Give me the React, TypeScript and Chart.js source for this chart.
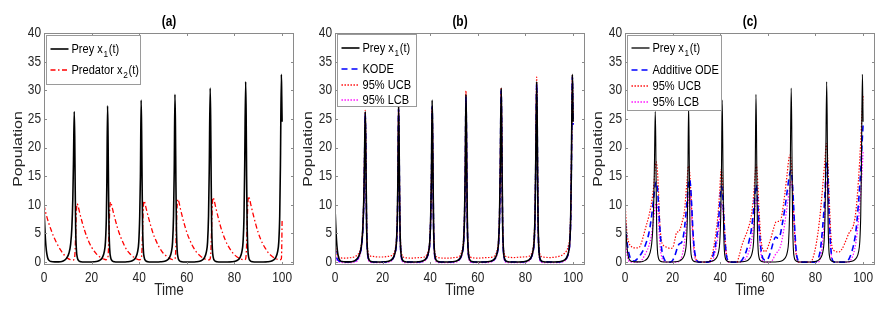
import React, { useEffect, useRef } from 'react';
import { Chart, registerables } from 'chart.js';
Chart.register(...registerables);

// ---------- tick labels / titles ----------
const X_TICKS = [0, 20, 40, 60, 80, 100];
const Y_TICKS = [0, 5, 10, 15, 20, 25, 30, 35, 40];
const PANEL_TITLES = ['(a)', '(b)', '(c)'];
const X_TITLE = 'Time';
const Y_TITLE = 'Population';

type P = [number, number];

// ---------- series (t, value) ----------
const PREY: P[] = [
  [0, 9.5], [0.3, 6.5], [0.6, 4.0], [1, 2.0], [1.5, 0.8], [2, 0.35], [3, 0.1], [4.5, 0.04], [6, 0.05], [7.5, 0.12],
  [8.5, 0.3], [9.5, 0.7], [10.5, 1.6], [11.2, 3.2], [11.7, 6.0], [12.1, 11], [12.4, 18], [12.7, 26.3], [12.9, 22],
  [13.1, 13], [13.3, 6], [13.6, 2.2], [14, 0.8], [14.6, 0.25], [15.5, 0.08], [17, 0.03], [19, 0.03], [21, 0.06],
  [22.5, 0.15], [23.5, 0.35], [24.5, 0.8], [25.3, 1.8], [25.8, 3.5], [26.2, 8], [26.4, 14], [26.7, 27.3], [26.9, 22],
  [27.1, 13], [27.3, 6], [27.6, 2.2], [28, 0.8], [28.6, 0.25], [29.5, 0.08], [31, 0.03], [33, 0.03], [35, 0.06],
  [36.5, 0.15], [37.5, 0.35], [38.5, 0.8], [39.3, 1.8], [39.8, 3.5], [40.2, 8], [40.5, 15], [40.8, 28.3], [41, 23],
  [41.2, 14], [41.4, 6.5], [41.7, 2.3], [42.1, 0.8], [42.7, 0.25], [43.6, 0.08], [45, 0.03], [47, 0.03], [49, 0.06],
  [50.7, 0.15], [51.7, 0.35], [52.7, 0.8], [53.5, 1.8], [54, 3.5], [54.4, 8], [54.7, 16], [55, 29.3], [55.2, 24],
  [55.4, 14], [55.6, 6.5], [55.9, 2.3], [56.3, 0.8], [56.9, 0.25], [57.8, 0.08], [59.5, 0.03], [62, 0.03], [64, 0.06],
  [65.4, 0.15], [66.4, 0.35], [67.4, 0.8], [68.2, 1.8], [68.7, 3.5], [69.1, 8], [69.4, 16], [69.8, 30.4], [70, 25],
  [70.2, 15], [70.4, 7], [70.7, 2.4], [71.1, 0.8], [71.7, 0.25], [72.6, 0.08], [74.5, 0.03], [77, 0.03], [79, 0.06],
  [80.3, 0.15], [81.3, 0.35], [82.3, 0.8], [83.1, 1.8], [83.6, 3.5], [84, 8], [84.3, 17], [84.7, 31.5], [84.9, 26],
  [85.1, 15], [85.3, 7], [85.6, 2.4], [86, 0.8], [86.6, 0.25], [87.5, 0.08], [89.5, 0.03], [92, 0.03], [94, 0.06],
  [95.3, 0.15], [96.3, 0.35], [97.3, 0.8], [98.1, 1.8], [98.6, 3.5], [99, 8], [99.3, 17], [99.7, 32.8], [99.85, 29],
  [100, 24.5],
];

const PREDATOR: P[] = [
  [0, 10], [0.5, 9.0], [1, 8.2], [2, 6.8], [3, 5.6], [4, 4.5], [5, 3.6], [6, 2.8], [7, 2.1], [8, 1.5], [9, 1.0],
  [10, 0.65], [11, 0.45], [12, 0.35], [12.7, 0.5], [13, 1.5], [13.3, 5], [13.6, 8.8], [13.9, 10.2], [14.3, 9.8],
  [15, 8.6], [16, 7.0], [17, 5.6], [18, 4.4], [19, 3.4], [20, 2.6], [21, 1.95], [22, 1.45], [23, 1.05], [24, 0.75],
  [25, 0.55], [26, 0.42], [26.7, 0.55], [27, 1.6], [27.3, 5.2], [27.6, 9.0], [27.9, 10.5], [28.3, 10.1], [29, 8.9],
  [30, 7.3], [31, 5.8], [32, 4.6], [33, 3.6], [34, 2.7], [35, 2.0], [36, 1.5], [37, 1.1], [38, 0.8], [39, 0.55],
  [40, 0.42], [40.8, 0.55], [41.1, 1.7], [41.4, 5.5], [41.7, 9.3], [42, 10.7], [42.4, 10.3], [43, 9.2], [44, 7.6],
  [45, 6.1], [46, 4.8], [47, 3.8], [48, 2.9], [49, 2.2], [50, 1.6], [51, 1.2], [52, 0.85], [53, 0.6], [54, 0.45],
  [55, 0.55], [55.3, 1.8], [55.6, 5.8], [55.9, 9.6], [56.2, 11.0], [56.6, 10.6], [57.3, 9.3], [58.3, 7.6], [59.3, 6.1],
  [60.3, 4.8], [61.3, 3.8], [62.3, 2.9], [63.3, 2.2], [64.3, 1.6], [65.3, 1.2], [66.3, 0.85], [67.3, 0.6], [68.3, 0.45],
  [69.3, 0.4], [69.8, 0.6], [70.1, 2.0], [70.4, 6.0], [70.7, 9.9], [71, 11.3], [71.4, 10.9], [72.1, 9.6], [73.1, 7.9],
  [74.1, 6.3], [75.1, 5.0], [76.1, 3.9], [77.1, 3.0], [78.1, 2.3], [79.1, 1.7], [80.1, 1.25], [81.1, 0.9], [82.1, 0.65],
  [83.1, 0.48], [84.1, 0.4], [84.7, 0.6], [85, 2.0], [85.3, 6.2], [85.6, 10.1], [85.9, 11.5], [86.3, 11.1], [87, 9.8],
  [88, 8.1], [89, 6.5], [90, 5.1], [91, 4.0], [92, 3.1], [93, 2.4], [94, 1.75], [95, 1.3], [96, 0.95], [97, 0.7],
  [98, 0.5], [99, 0.4], [99.7, 0.6], [99.85, 2.5], [100, 7.2],
];

const KODE_B: P[] = [
  [0, 2.5], [0.5, 1.2], [1, 0.5], [2, 0.15], [4, 0.05], [6, 0.05], [7.5, 0.1], [8.5, 0.25], [9.5, 0.6], [10.5, 1.5],
  [11.2, 3.0], [11.7, 5.8], [12.1, 10.5], [12.4, 17.5], [12.7, 26.0], [12.9, 21.5], [13.1, 12.5], [13.3, 5.8], [13.6, 2.0],
  [14, 0.7], [14.6, 0.2], [15.5, 0.07], [18, 0.03], [21, 0.05], [22.5, 0.12], [23.5, 0.3], [24.5, 0.75], [25.3, 1.7],
  [25.8, 3.3], [26.2, 7.6], [26.4, 13.5], [26.7, 26.8], [26.9, 21.5], [27.1, 12.5], [27.3, 5.8], [27.6, 2.0], [28, 0.7],
  [28.6, 0.2], [29.5, 0.07], [32, 0.03], [35, 0.05], [36.5, 0.12], [37.5, 0.3], [38.5, 0.75], [39.3, 1.7], [39.8, 3.3],
  [40.2, 7.6], [40.5, 14.5], [40.8, 27.2], [41, 22], [41.2, 13.5], [41.4, 6.2], [41.7, 2.1], [42.1, 0.7], [42.7, 0.2],
  [43.6, 0.07], [46, 0.03], [49, 0.05], [50.7, 0.12], [51.7, 0.3], [52.7, 0.75], [53.5, 1.7], [54, 3.3], [54.4, 7.6],
  [54.7, 15.5], [55, 28.8], [55.2, 23.5], [55.4, 13.5], [55.6, 6.2], [55.9, 2.1], [56.3, 0.7], [56.9, 0.2], [57.8, 0.07],
  [61, 0.03], [64, 0.05], [65.4, 0.12], [66.4, 0.3], [67.4, 0.75], [68.2, 1.7], [68.7, 3.3], [69.1, 7.6], [69.4, 15.5],
  [69.8, 30.0], [70, 24.5], [70.2, 14.5], [70.4, 6.7], [70.7, 2.2], [71.1, 0.7], [71.7, 0.2], [72.6, 0.07], [76, 0.03],
  [79, 0.05], [80.3, 0.12], [81.3, 0.3], [82.3, 0.75], [83.1, 1.7], [83.6, 3.3], [84, 7.6], [84.3, 16.5], [84.7, 31.2],
  [84.9, 25.5], [85.1, 14.5], [85.3, 6.7], [85.6, 2.2], [86, 0.7], [86.6, 0.2], [87.5, 0.07], [91, 0.03], [94, 0.05],
  [95.3, 0.12], [96.3, 0.3], [97.3, 0.75], [98.1, 1.7], [98.6, 3.3], [99, 7.6], [99.3, 16.5], [99.7, 32.4], [99.85, 28.5],
  [100, 24.0],
];

const UCB_B: P[] = [
  [0, 3.5], [0.5, 2.0], [1, 1.2], [2, 0.8], [4, 0.7], [6, 0.75], [8, 0.9], [9.5, 1.3], [10.5, 2.0], [11.2, 3.6],
  [11.7, 6.5], [12.1, 12], [12.4, 19], [12.7, 26.5], [12.9, 22.5], [13.1, 14], [13.3, 7], [13.6, 3], [14, 1.6],
  [14.6, 1.1], [16, 1.0], [18, 0.9], [20, 0.9], [22, 1.0], [23.5, 1.1], [24.5, 1.4], [25.3, 2.3], [25.8, 4.0],
  [26.2, 8.5], [26.4, 14.5], [26.7, 27.0], [26.9, 22.5], [27.1, 14], [27.3, 7], [27.6, 3], [28, 1.5], [28.6, 0.9],
  [30, 0.75], [32, 0.7], [34, 0.75], [36, 0.8], [37.5, 0.9], [38.5, 1.3], [39.3, 2.2], [39.8, 4], [40.2, 8.5],
  [40.5, 15.5], [40.8, 27.2], [41, 23], [41.2, 14.5], [41.4, 7], [41.7, 3], [42.1, 1.4], [42.7, 0.9], [44, 0.75],
  [46, 0.7], [48, 0.7], [50, 0.8], [51.7, 0.9], [52.7, 1.3], [53.5, 2.3], [54, 4.2], [54.4, 9], [54.7, 17], [55, 29.9],
  [55.2, 24.5], [55.4, 15], [55.6, 7], [55.9, 3], [56.3, 1.4], [56.9, 0.9], [58, 0.75], [60, 0.7], [62, 0.75], [64, 0.8],
  [66.4, 0.9], [67.4, 1.3], [68.2, 2.3], [68.7, 4.2], [69.1, 9], [69.4, 17], [69.8, 30.5], [70, 25.5], [70.2, 15.5],
  [70.4, 7.5], [70.7, 3], [71.1, 1.5], [71.7, 1.0], [73, 0.85], [75, 0.8], [77, 0.85], [79, 0.9], [81.3, 1.0],
  [82.3, 1.3], [83.1, 2.3], [83.6, 4.2], [84, 9], [84.3, 18], [84.7, 32.3], [84.9, 27], [85.1, 16], [85.3, 7.5],
  [85.6, 3], [86, 1.5], [86.6, 1.0], [88, 0.85], [90, 0.8], [92, 0.85], [94, 1.0], [95.3, 1.2], [96.3, 1.5], [97.3, 2.0],
  [98.1, 3.0], [98.6, 4.5], [99, 9], [99.3, 18], [99.7, 32.6], [99.85, 29.5], [100, 26],
];

const LCB_B: P[] = [
  [0, 2.0], [0.5, 0.8], [1, 0.2], [2, 0], [4, -0.1], [6, -0.1], [8, 0], [9.5, 0.3], [10.5, 1.2], [11.2, 2.8],
  [11.7, 5.5], [12.1, 10], [12.4, 17], [12.7, 25.5], [12.9, 21], [13.1, 12], [13.3, 5], [13.6, 1.5], [14, 0.4],
  [14.6, 0], [16, -0.1], [20, -0.1], [22.5, 0], [23.5, 0.15], [24.5, 0.6], [25.3, 1.5], [25.8, 3.0], [26.2, 7],
  [26.4, 13], [26.7, 26.5], [26.9, 21], [27.1, 12], [27.3, 5], [27.6, 1.5], [28, 0.4], [28.6, 0], [30, -0.1],
  [35, -0.1], [36.5, 0], [37.5, 0.15], [38.5, 0.6], [39.3, 1.5], [39.8, 3.0], [40.2, 7], [40.5, 14], [40.8, 26.8],
  [41, 21.5], [41.2, 12.5], [41.4, 5.5], [41.7, 1.6], [42.1, 0.4], [42.7, 0], [44, -0.1], [49, -0.1], [50.7, 0],
  [51.7, 0.15], [52.7, 0.6], [53.5, 1.5], [54, 3.0], [54.4, 7], [54.7, 15], [55, 28.3], [55.2, 23], [55.4, 13],
  [55.6, 5.5], [55.9, 1.6], [56.3, 0.4], [56.9, 0], [58, -0.1], [64, -0.1], [65.4, 0], [66.4, 0.15], [67.4, 0.6],
  [68.2, 1.5], [68.7, 3.0], [69.1, 7], [69.4, 15], [69.8, 29.6], [70, 24], [70.2, 14], [70.4, 6], [70.7, 1.8],
  [71.1, 0.4], [71.7, 0], [73, -0.1], [79, -0.1], [80.3, 0], [81.3, 0.15], [82.3, 0.6], [83.1, 1.5], [83.6, 3.0],
  [84, 7], [84.3, 16], [84.7, 30.8], [84.9, 25], [85.1, 14], [85.3, 6], [85.6, 1.8], [86, 0.4], [86.6, 0], [88, -0.1],
  [94, -0.1], [95.3, 0], [96.3, 0.15], [97.3, 0.6], [98.1, 1.5], [98.6, 3.0], [99, 7], [99.3, 16], [99.7, 31.5],
  [99.85, 28], [100, 24],
];

const ADD_C: P[] = [
  [0, 7], [0.5, 5], [1, 3], [2, 1], [3, 0.3], [4, 0.2], [5, 0.5], [6, 1.0], [7, 1.6], [8, 2.4], [9, 3.5], [10, 5],
  [11, 7.5], [12, 11], [12.7, 13.5], [13.2, 14], [13.7, 12.5], [14.2, 9], [14.8, 5], [15.5, 2], [16.5, 0.5], [17.5, 0.1],
  [19, 0], [20, 0.3], [21, 1.2], [22, 2.5], [22.8, 3.2], [23.5, 3.3], [24.5, 4.5], [25.5, 8], [26.3, 12], [27, 14.5],
  [27.5, 13.5], [28, 10], [28.6, 5], [29.2, 2], [30, 0.5], [31, 0], [35, 0], [36, 0.3], [37, 1.2], [38, 3], [39, 6],
  [39.8, 10], [40.5, 13.3], [41, 12], [41.5, 8], [42, 4], [42.6, 1.2], [43.3, 0.2], [44, 0], [48, 0], [49, 0.3], [50, 1],
  [51, 2], [52, 3.5], [53, 5.5], [54, 9], [54.7, 12.5], [55.1, 13.5], [55.6, 11.5], [56.2, 7], [56.8, 3.5], [57.5, 1.2],
  [58.5, 0.4], [59.5, 0.3], [60.5, 1], [61.5, 2.3], [62.5, 3.8], [63.3, 4.4], [64.2, 4.2], [65, 4.5], [66, 6.5], [67, 9],
  [68, 12], [69, 15], [69.6, 16], [70.2, 14.5], [70.8, 10], [71.4, 5], [72, 1.5], [72.7, 0.3], [73.5, 0], [80, 0],
  [81, 0.5], [82, 2], [83, 6], [84, 12], [84.6, 17.3], [85.1, 16], [85.6, 10], [86.2, 4], [86.8, 1], [87.5, 0.1], [88, 0],
  [93, 0], [94, 0.5], [95, 1.5], [96, 3], [97, 5.5], [98, 10], [99, 16], [99.6, 21], [100, 24],
];

const UCB_C: P[] = [
  [0, 11], [0.5, 7], [1, 4.5], [1.5, 3.5], [2.5, 2.8], [3.5, 2.5], [5, 2.5], [6, 2.6], [7, 3.5], [8, 5], [9, 6.5],
  [10, 8], [11, 10], [12, 13], [12.6, 16], [13.1, 17.5], [13.6, 16], [14.1, 12], [14.6, 7], [15.2, 4], [16, 3], [17, 2.7],
  [18, 2.5], [19, 2.4], [20, 2.5], [21, 4], [21.7, 5.2], [22.5, 5.3], [23.2, 5.8], [24, 7], [25, 9], [26, 14], [26.7, 16.8],
  [27.2, 15.5], [27.8, 11], [28.4, 6], [29, 2.5], [29.6, 0.8], [30.5, 0.2], [31.5, 0], [35, 0], [36, 0.5], [37, 2],
  [38, 4.5], [39, 8], [39.8, 12.5], [40.4, 16.2], [40.9, 14.5], [41.4, 9.5], [42, 4.5], [42.6, 1.5], [43.2, 0.3], [44, 0],
  [47, 0], [48, 1.2], [49, 2.8], [50, 4], [51, 5], [52, 6.2], [53, 8], [54, 11.5], [54.6, 15], [55.1, 17], [55.6, 15],
  [56.2, 10], [56.8, 5.5], [57.4, 3], [58, 2.2], [58.8, 1.8], [59.6, 2.2], [60.5, 3.2], [61.5, 4.5], [62.5, 6], [63.4, 7],
  [64.5, 7.1], [65.3, 7.2], [66, 8.5], [67, 11.5], [68, 15], [68.8, 18], [69.3, 18.7], [69.9, 17], [70.5, 12], [71.1, 6],
  [71.7, 2], [72.3, 0.5], [73, 0], [78, 0], [79, 0.8], [80, 2.5], [81, 5], [82, 8.5], [83, 13], [84, 18], [84.6, 20.7],
  [85.1, 18.5], [85.7, 12], [86.3, 6], [86.9, 2.8], [87.8, 2], [89, 1.8], [90, 1.8], [91, 2.2], [92, 3], [93, 4], [94, 5],
  [95, 5.6], [96, 6.5], [97, 9], [98, 14], [99, 21], [99.5, 25.5], [100, 29],
];

const LCB_C: P[] = [
  [0, 5], [0.5, 2.5], [1, 1], [1.5, 0.3], [2.5, 0], [6, 0], [7, 0.3], [8, 1], [9, 1.8], [10, 2.8], [11, 4.5], [12, 7.5],
  [12.8, 10], [13.3, 10.5], [13.8, 9], [14.3, 5.5], [14.8, 2.5], [15.5, 0.8], [16.5, 0.1], [17.5, 0], [22, 0], [23, 0.3],
  [24, 1.2], [25, 3.5], [26, 7.5], [26.8, 11.5], [27.3, 12], [27.8, 9.5], [28.3, 5.5], [28.9, 2], [29.6, 0.4], [30.5, 0],
  [36, 0], [37, 0.5], [38, 2], [39, 4.5], [40, 8.5], [40.6, 10.2], [41.1, 9], [41.6, 5.5], [42.2, 2.2], [42.8, 0.5],
  [43.5, 0], [49, 0], [50, 0.3], [51, 0.8], [52, 1.8], [53, 3.5], [54, 6.5], [54.8, 10], [55.3, 11], [55.8, 9], [56.3, 5.5],
  [56.9, 2.2], [57.5, 0.6], [58.3, 0], [61, 0], [62, 0.4], [63, 1.2], [64, 1.8], [65, 2.4], [66, 4], [67, 6.5], [68, 9.5],
  [69, 12.5], [69.7, 14], [70.3, 12.5], [70.9, 8], [71.5, 3.5], [72.1, 1], [72.8, 0], [81, 0], [82, 0.6], [83, 3.5],
  [84, 9], [84.6, 14], [85.1, 13], [85.6, 8.5], [86.2, 3.5], [86.8, 0.8], [87.5, 0], [94, 0], [95, 0.5], [96, 1.5],
  [97, 3.5], [98, 7], [99, 12], [99.6, 16], [100, 19.3],
];

// ---------- styling ----------
const FONT = '"Liberation Sans", Arial, Helvetica, sans-serif';
const K = 0.85; // horizontal squeeze of the original figure's text
const SZ = { tick: 14, axis: 16, legend: 13, title: 14 };
const TEXT = '#262626';
const AXIS = '#8a8a8a';
const DOT = [1.4, 1.6];
Chart.defaults.font.family = FONT;

const SUBS: Record<string, string> = { '₀': '0', '₁': '1', '₂': '2', '₃': '3' };

function drawText(ctx: CanvasRenderingContext2D, s: string, x: number, y: number, size: number,
  align: CanvasTextAlign, weight = 'normal', rotate = false) {
  ctx.save();
  ctx.translate(x, y);
  ctx.scale(K, 1);
  if (rotate) ctx.rotate(-Math.PI / 2);
  ctx.font = `${weight} ${size}px ${FONT}`;
  ctx.textAlign = align;
  ctx.textBaseline = 'middle';
  ctx.fillText(s, 0, 0);
  ctx.restore();
}

function drawRich(ctx: CanvasRenderingContext2D, text: string, x: number, y: number, size: number) {
  ctx.save();
  ctx.translate(x, y);
  ctx.scale(K, 1);
  ctx.textAlign = 'left';
  ctx.textBaseline = 'middle';
  let cx = 0;
  let buf = '';
  const flush = () => {
    if (!buf) return;
    ctx.font = `${size}px ${FONT}`;
    ctx.fillText(buf, cx, 0);
    cx += ctx.measureText(buf).width;
    buf = '';
  };
  for (const ch of text) {
    if (SUBS[ch]) {
      flush();
      const s = size * 0.75;
      ctx.font = `${s}px ${FONT}`;
      ctx.fillText(SUBS[ch], cx + 0.8, size * 0.4);
      cx += ctx.measureText(SUBS[ch]).width + 1.6;
    } else buf += ch;
  }
  flush();
  ctx.restore();
}

const boxPlugin = {
  id: 'matlabBox',
  afterDatasetsDraw(chart: any) {
    const { ctx, chartArea: a, scales } = chart;
    ctx.save();
    ctx.strokeStyle = AXIS;
    ctx.lineWidth = 1;
    const L = Math.round(a.left) + 0.5, R = Math.round(a.right) - 0.5;
    const T = Math.round(a.top) + 0.5, B = Math.round(a.bottom) - 0.5;
    ctx.strokeRect(L, T, R - L, B - T);
    const tl = 2.5;
    ctx.beginPath();
    for (const v of X_TICKS) {
      const px = Math.round(scales.x.getPixelForValue(v)) + 0.5;
      ctx.moveTo(px, B); ctx.lineTo(px, B - tl);
      ctx.moveTo(px, T); ctx.lineTo(px, T + tl);
    }
    for (const v of Y_TICKS) {
      const py = Math.round(scales.y.getPixelForValue(v)) + 0.5;
      ctx.moveTo(L, py); ctx.lineTo(L + tl, py);
      ctx.moveTo(R, py); ctx.lineTo(R - tl, py);
    }
    ctx.stroke();
    ctx.restore();
  },
};

// axis labels, titles: drawn at the positions given by Chart.js scales
const textPlugin = {
  id: 'matlabText',
  afterDraw(chart: any, _args: any, opts: any) {
    const { ctx, chartArea: a, scales } = chart;
    ctx.save();
    ctx.fillStyle = TEXT;
    for (const v of X_TICKS) drawText(ctx, String(v), scales.x.getPixelForValue(v), 278, SZ.tick, 'center');
    for (const v of Y_TICKS) drawText(ctx, String(v), a.left - 3, scales.y.getPixelForValue(v), SZ.tick, 'right');
    drawText(ctx, X_TITLE, (a.left + a.right) / 2, 290.5, SZ.axis, 'center');
    drawText(ctx, Y_TITLE, opts.yTitleX, (a.top + a.bottom) / 2, SZ.axis, 'center', 'normal', true);
    ctx.fillStyle = '#000';
    drawText(ctx, opts.title, (a.left + a.right) / 2, 22, SZ.title, 'center', 'bold');
    ctx.restore();
  },
};

const legendPlugin = {
  id: 'boxLegend',
  afterDraw(chart: any, _args: any, opts: any) {
    if (!opts || !opts.rows) return;
    const { ctx, chartArea: a } = chart;
    const x0 = Math.round(a.left + opts.dx) + 0.5;
    const y0 = Math.round(a.top + opts.dy) + 0.5;
    ctx.save();
    ctx.fillStyle = '#ffffff';
    ctx.fillRect(x0, y0, opts.w, opts.h);
    ctx.strokeStyle = '#9a9a9a';
    ctx.lineWidth = 1;
    ctx.strokeRect(x0, y0, opts.w, opts.h);
    chart.data.datasets.forEach((ds: any, i: number) => {
      const yc = Math.round(y0 + opts.rows[i]);
      ctx.save();
      ctx.strokeStyle = ds.borderColor;
      ctx.lineWidth = Math.max(ds.borderWidth, 1.3);
      ctx.setLineDash(ds.borderDash || []);
      ctx.beginPath();
      ctx.moveTo(x0 + 4, yc);
      ctx.lineTo(x0 + 22, yc);
      ctx.stroke();
      ctx.restore();
      ctx.fillStyle = '#000000';
      drawRich(ctx, ds.label, x0 + 25, yc, SZ.legend);
    });
    ctx.restore();
  },
};

function line(label: string, pts: P[], color: string, width: number, dash: number[] = []) {
  return {
    label,
    data: pts.map(([x, y]) => ({ x, y })),
    borderColor: color,
    backgroundColor: color,
    borderWidth: width,
    borderDash: dash,
    pointRadius: 0,
    fill: false,
    cubicInterpolationMode: 'monotone' as const,
  };
}

function makeConfig(title: string, datasets: any[], legend: any, yTitleX: number) {
  return {
    type: 'line' as const,
    data: { datasets },
    options: {
      animation: false as const,
      responsive: false,
      layout: { padding: { left: 0, right: 2, top: 33, bottom: 0 } },
      plugins: {
        legend: { display: false },
        tooltip: { enabled: false },
        title: { display: false },
        boxLegend: legend,
        matlabText: { title, yTitleX },
      },
      scales: {
        x: {
          type: 'linear' as const,
          min: 0,
          max: 105,
          grid: { display: false, drawTicks: false },
          border: { display: false },
          afterBuildTicks: (s: any) => { s.ticks = X_TICKS.map((v) => ({ value: v })); },
          afterFit: (s: any) => { s.height = 47; },
          ticks: { display: false },
          title: { display: false },
        },
        y: {
          type: 'linear' as const,
          min: -0.5,
          max: 40,
          grid: { display: false, drawTicks: false },
          border: { display: false },
          afterBuildTicks: (s: any) => { s.ticks = Y_TICKS.map((v) => ({ value: v })); },
          afterFit: (s: any) => { s.width = 44; },
          ticks: { display: false },
          title: { display: false },
        },
      },
    },
    plugins: [boxPlugin, textPlugin, legendPlugin],
  };
}

const CANVAS_W = 296;
const CANVAS_H = 312;
const LEFTS = [0, 291, 581];

export default function App() {
  const refs = [useRef<HTMLCanvasElement>(null), useRef<HTMLCanvasElement>(null), useRef<HTMLCanvasElement>(null)];

  useEffect(() => {
    const legendA = { dx: 2, dy: 1.5, w: 94, h: 49, rows: [13.5, 34] };
    const legendB = { dx: 1.5, dy: 0.5, w: 79, h: 72, rows: [13.5, 34, 50, 65] };
    const legendC = { dx: 2, dy: 2, w: 94, h: 75, rows: [12.5, 34, 50, 66] };

    const cfgs = [
      makeConfig(PANEL_TITLES[0], [
        line('Prey x₁(t)', PREY, '#000000', 1.6),
        line('Predator x₂(t)', PREDATOR, '#ff0000', 1.3, [5, 2.5, 1.5, 2.5]),
      ], legendA, 18),
      makeConfig(PANEL_TITLES[1], [
        line('Prey x₁(t)', PREY, '#000000', 1.6),
        line('KODE', KODE_B, '#0000ff', 1.6, [6, 4]),
        line('95% UCB', UCB_B, '#ff0000', 1.2, DOT),
        line('95% LCB', LCB_B, '#ff00ff', 1.2, DOT),
      ], legendB, 17),
      makeConfig(PANEL_TITLES[2], [
        line('Prey x₁(t)', PREY, '#000000', 1.1),
        line('Additive ODE', ADD_C, '#0000ff', 1.6, [6, 4]),
        line('95% UCB', UCB_C, '#ff0000', 1.2, DOT),
        line('95% LCB', LCB_C, '#ff00ff', 1.2, DOT),
      ], legendC, 17),
    ];
    const charts = cfgs.map((cfg, i) => new Chart(refs[i].current as HTMLCanvasElement, cfg as any));
    return () => charts.forEach((c) => c.destroy());
  }, []);

  return (
    <div style={{ position: 'absolute', left: 0, top: 0, width: 893, height: 312, background: '#fff' }}>
      {LEFTS.map((l, i) => (
        <canvas
          key={i}
          ref={refs[i]}
          width={CANVAS_W}
          height={CANVAS_H}
          style={{ position: 'absolute', left: l, top: 0, width: CANVAS_W, height: CANVAS_H }}
        />
      ))}
    </div>
  );
}
